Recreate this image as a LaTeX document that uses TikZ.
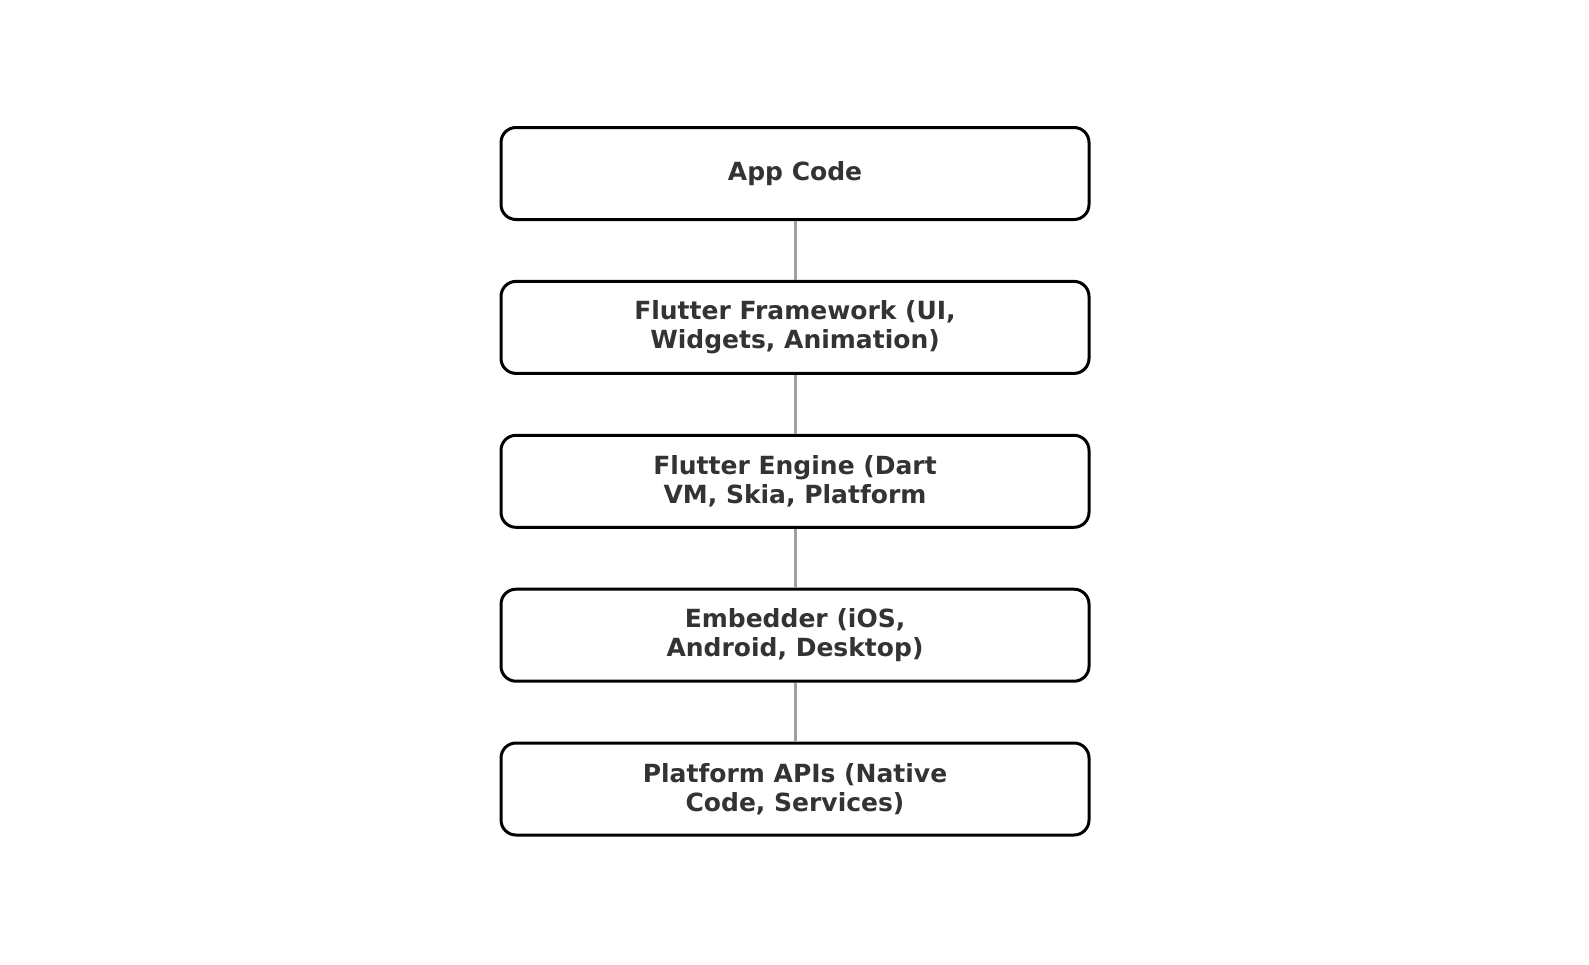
\documentclass[tikz,border=0pt]{standalone}
\usepackage{fontspec}
\setmainfont{DejaVu Sans}
\definecolor{txt}{HTML}{333333}
\definecolor{conn}{HTML}{A0A0A0}
\begin{document}
\begin{tikzpicture}[x=1pt,y=-1pt,
  layer/.style={draw=black, line width=3pt, rounded corners=15pt, fill=white,
    minimum width=588pt, minimum height=92pt, inner sep=0pt,
    align=center, text=txt, font=\fontsize{25}{28.6}\selectfont\bfseries},
  link/.style={draw=conn, line width=3pt}]
\useasboundingbox (0,0) rectangle (1589,964);
\node[layer] (a) at (795,173.5) {App Code};
\node[layer] (b) at (795,327.4) {Flutter Framework (UI,\\Widgets, Animation)};
\node[layer] (c) at (795,481.3) {Flutter Engine (Dart\\VM, Skia, Platform};
\node[layer] (d) at (795,635.2) {Embedder (iOS,\\Android, Desktop)};
\node[layer] (e) at (795,789) {Platform APIs (Native\\Code, Services)};
\draw[link] (a.south) -- (b.north);
\draw[link] (b.south) -- (c.north);
\draw[link] (c.south) -- (d.north);
\draw[link] (d.south) -- (e.north);
\end{tikzpicture}
\end{document}
